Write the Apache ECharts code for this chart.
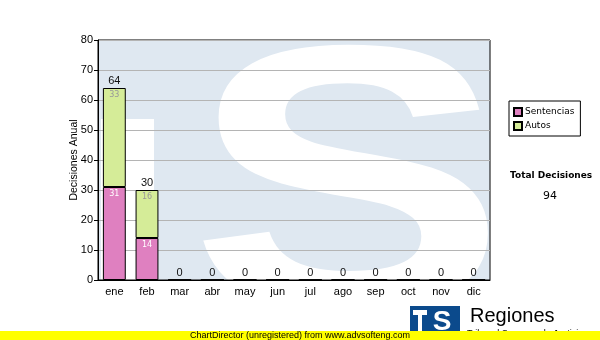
<!DOCTYPE html>
<html>
<head>
<meta charset="utf-8">
<script src="https://cdn.jsdelivr.net/npm/echarts@6/dist/echarts.min.js"></script>
<style>html,body{margin:0;padding:0;background:#fff}#c{width:600px;height:340px}</style>
</head>
<body>
<div id="c"></div>
<script>
var categories = ['ene','feb','mar','abr','may','jun','jul','ago','sep','oct','nov','dic'];
var sentencias = [31,14,0,0,0,0,0,0,0,0,0,0];
var autos = [33,16,0,0,0,0,0,0,0,0,0,0];
var totals = categories.map(function(c,i){return sentencias[i]+autos[i];});
var yTicks = [0,10,20,30,40,50,60,70,80];
var totalDecisiones = totals.reduce(function(a,b){return a+b;},0);

var chart = echarts.init(document.getElementById('c'), null, {renderer:'canvas'});
var axisFont = 'Liberation Sans';
chart.setOption({
  animation:false,
  backgroundColor:'#fff',
  grid:{left:98, right:110, top:40, bottom:60, show:true, backgroundColor:'transparent', borderColor:'#000', borderWidth:1},
  legend:{
    orient:'vertical', left:509, top:101, itemWidth:8, itemHeight:8, itemGap:4,
    padding:[6,6,5,4], borderColor:'#000', borderWidth:1, backgroundColor:'#fff',
    icon:'rect',
    textStyle:{fontFamily:'DejaVu Sans', fontSize:9, color:'#000', padding:[0,0,0,-2]},
    data:['Sentencias','Autos']
  },
  xAxis:{
    type:'category', data:categories,
    axisLine:{lineStyle:{color:'#000',width:1}},
    axisTick:{alignWithLabel:true, length:4, lineStyle:{color:'#000'}},
    axisLabel:{fontFamily:axisFont, fontSize:11, color:'#000', margin:6},
    splitLine:{show:false}
  },
  yAxis:{
    type:'value', min:0, max:80, interval:10,
    name:'Decisiones Anual', nameLocation:'middle', nameGap:18, nameMoveOverlap:false,
    nameTextStyle:{fontFamily:axisFont, fontSize:10.5, color:'#000'},
    axisLine:{show:true, lineStyle:{color:'#000',width:1}},
    axisTick:{show:true, length:4, lineStyle:{color:'#000'}},
    axisLabel:{fontFamily:axisFont, fontSize:11, color:'#000', margin:5,
      formatter:function(v){return yTicks.indexOf(v)>=0?String(v):'';}},
    splitLine:{show:true, lineStyle:{color:'#b4b4b4', width:1}}
  },
  series:[
    {name:'Sentencias', type:'bar', stack:'t', data:sentencias, barWidth:'70%',
     itemStyle:{color:'#df80c0', borderColor:'#000', borderWidth:1},
     label:{show:true, position:'insideTop', distance:3, fontFamily:'DejaVu Sans', fontSize:8, color:'#fff',
       formatter:function(p){return p.value?String(p.value):'';}}},
    {name:'Autos', type:'bar', stack:'t', data:autos,
     itemStyle:{color:'#d5ec98', borderColor:'#000', borderWidth:1},
     label:{show:true, position:'insideTop', distance:3, fontFamily:'DejaVu Sans', fontSize:8, color:'#999',
       formatter:function(p){return p.value?String(p.value):'';}}},
    {name:'Total', type:'bar', stack:'t', data:categories.map(function(){return 0;}),
     itemStyle:{color:'transparent', borderWidth:0},
     label:{show:true, position:'top', distance:2, fontFamily:axisFont, fontSize:11, color:'#111',
       formatter:function(p){return String(totals[p.dataIndex]);}}}
  ],
  graphic:[
    {type:'rect', z:-10, shape:{x:98, y:40, width:392, height:240}, style:{fill:'#dfe8f1'}},
    {type:'rect', z:-9, shape:{x:101, y:119, width:53, height:161}, style:{fill:'#fff'}},
    {type:'text', z:-9, x:348, y:204, scaleX:1.26, style:{text:'S', x:0, y:0, align:'center', verticalAlign:'middle', font:'bold 377px "Liberation Sans"', fill:'#fff'}},
    {type:'text', z:5, left:510, top:171, style:{text:'Total Decisiones', font:'bold 9px "DejaVu Sans"', fill:'#000'}},
    {type:'text', z:5, x:550, y:196, style:{text:String(totalDecisiones), align:'center', verticalAlign:'middle', font:'11px "DejaVu Sans"', fill:'#000'}},
    {type:'rect', z:5, shape:{x:410, y:306, width:50, height:30}, style:{fill:'#0b4a8c'}},
    {type:'rect', z:6, shape:{x:413, y:310, width:14, height:5}, style:{fill:'#fff'}},
    {type:'rect', z:6, shape:{x:418, y:310, width:4, height:22}, style:{fill:'#fff'}},
    {type:'text', z:6, x:442, y:322, style:{text:'S', align:'center', verticalAlign:'middle', font:'bold 28px "Liberation Sans"', fill:'#fff'}},
    {type:'text', z:5, x:470, y:316, style:{text:'Regiones', align:'left', verticalAlign:'middle', font:'20px "Liberation Sans"', fill:'#000'}},
    {type:'text', z:5, x:467, y:334, style:{text:'Tribunal Supremo de Justicia', align:'left', verticalAlign:'middle', font:'9px "Liberation Sans"', fill:'#000'}},
    {type:'rect', z:8, shape:{x:0, y:331, width:600, height:9}, style:{fill:'#ffff00'}},
    {type:'text', z:9, x:300, y:335.5, style:{text:'ChartDirector (unregistered) from www.advsofteng.com', align:'center', verticalAlign:'middle', font:'9px "Liberation Sans"', fill:'#000'}}
  ]
});
</script>
</body>
</html>
